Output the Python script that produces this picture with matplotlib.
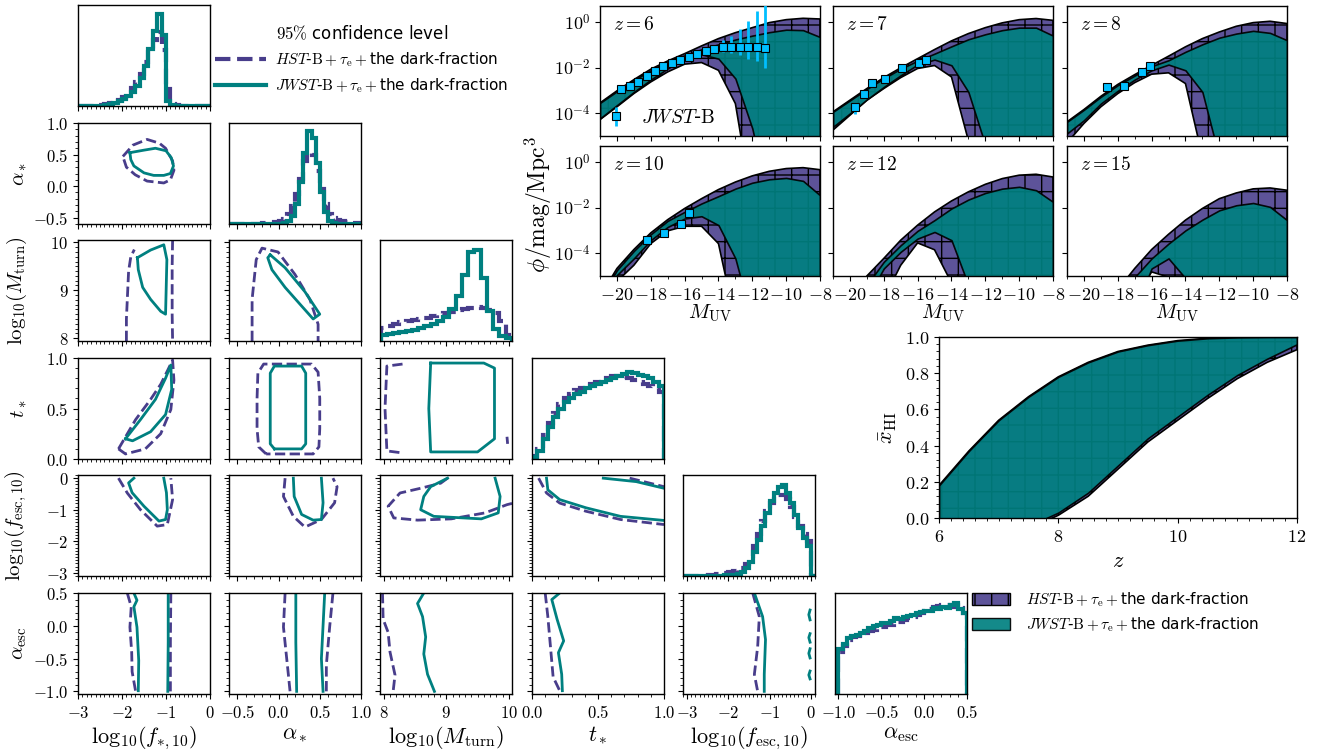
import numpy as np
import matplotlib.pyplot as plt
from matplotlib.lines import Line2D
from matplotlib.patches import Patch
from matplotlib.ticker import (MultipleLocator, FixedLocator, FixedFormatter,
                               FuncFormatter, NullLocator, AutoMinorLocator)

plt.rcParams['mathtext.fontset'] = 'cm'
plt.rcParams['axes.linewidth'] = 1.0
plt.rcParams['hatch.linewidth'] = 1.0

HST_LINE = '#483d8b'
HST_FILL = '#5d5399'
JWST_LINE = '#008080'
OBS = '#00bfff'

# ---------------- 1D posteriors (normalised step heights) ----------------
fstar_edges = np.linspace(-3, 0, 31)
fstar_hist_hst = [0.001, 0.001, 0.002, 0.003, 0.005, 0.008, 0.015, 0.025, 0.04, 0.06,
                  0.09, 0.13, 0.18, 0.24, 0.32, 0.44, 0.55, 0.65, 0.73, 0.55,
                  0.17, 0.02, 0.006, 0.004, 0.003, 0.002, 0.002, 0.002, 0.001, 0.001]
fstar_hist_jwst = [0, 0, 0, 0.001, 0.002, 0.003, 0.008, 0.015, 0.03, 0.05,
                   0.07, 0.1, 0.14, 0.2, 0.28, 0.4, 0.56, 0.74, 0.91, 0.7,
                   0.05, 0.005, 0.003, 0.002, 0.002, 0.002, 0.001, 0.001, 0.001, 0.001]

astar_edges = np.linspace(-0.6, 1.0, 33)
astar_hist_hst = [0.001, 0.001, 0.001, 0.002, 0.002, 0.003, 0.003, 0.004, 0.005, 0.007,
                  0.01, 0.015, 0.025, 0.05, 0.1, 0.18, 0.3, 0.45, 0.62, 0.7,
                  0.68, 0.52, 0.35, 0.2, 0.1, 0.06, 0.04, 0.03, 0.02, 0.015, 0.01, 0.01]
astar_hist_jwst = [0, 0, 0, 0, 0, 0, 0, 0, 0, 0, 0, 0,
                   0.002, 0.01, 0.03, 0.08, 0.2, 0.42, 0.7, 0.92, 0.85, 0.6,
                   0.32, 0.12, 0.03, 0.008, 0.003, 0.001, 0.001, 0.001, 0.001, 0.001]

mturn_edges = np.linspace(7.95, 10.05, 22)
mturn_hist_hst = [0.13, 0.15, 0.17, 0.19, 0.2, 0.21, 0.22, 0.23, 0.25, 0.27, 0.28,
                  0.29, 0.31, 0.32, 0.33, 0.34, 0.33, 0.31, 0.28, 0.2, 0.06]
mturn_hist_jwst = [0.06, 0.07, 0.08, 0.09, 0.1, 0.11, 0.13, 0.15, 0.17, 0.2, 0.24,
                   0.32, 0.45, 0.65, 0.88, 0.9, 0.62, 0.3, 0.12, 0.05, 0.03]

tstar_edges = np.linspace(0, 1, 26)
tstar_hist_hst = [0.03, 0.1, 0.24, 0.36, 0.46, 0.54, 0.6, 0.64, 0.68, 0.7, 0.72, 0.74, 0.76,
                  0.78, 0.8, 0.82, 0.82, 0.81, 0.8, 0.78, 0.76, 0.74, 0.72, 0.7, 0.66]
tstar_hist_jwst = [0.02, 0.08, 0.2, 0.32, 0.42, 0.5, 0.56, 0.6, 0.64, 0.66, 0.7, 0.72, 0.74,
                   0.76, 0.78, 0.8, 0.82, 0.84, 0.86, 0.85, 0.83, 0.82, 0.8, 0.76, 0.72]

fesc_edges = np.linspace(-3.1, 0.1, 33)
fesc_hist_hst = [0, 0, 0, 0, 0, 0, 0.005, 0.01, 0.02, 0.02, 0.03, 0.04,
                 0.05, 0.06, 0.08, 0.12, 0.2, 0.3, 0.42, 0.54, 0.64, 0.72,
                 0.78, 0.8, 0.8, 0.76, 0.68, 0.58, 0.5, 0.42, 0.35, 0]
fesc_hist_jwst = [0, 0, 0, 0, 0, 0, 0, 0, 0.002, 0.003, 0.005, 0.007,
                  0.01, 0.02, 0.04, 0.08, 0.14, 0.24, 0.36, 0.5, 0.62, 0.74,
                  0.82, 0.88, 0.9, 0.82, 0.72, 0.6, 0.48, 0.38, 0.3, 0]

aesc_edges = np.linspace(-1.0, 0.5, 31)
aesc_hist_hst = [0.42, 0.48, 0.53, 0.56, 0.57, 0.58, 0.6, 0.62, 0.63, 0.65, 0.66, 0.68, 0.68,
                 0.7, 0.71, 0.73, 0.75, 0.76, 0.78, 0.8, 0.82, 0.84, 0.86, 0.87, 0.88, 0.88,
                 0.86, 0.88, 0.85, 0.8]
aesc_hist_jwst = [0.45, 0.5, 0.55, 0.57, 0.58, 0.6, 0.62, 0.65, 0.67, 0.68, 0.7, 0.7, 0.72,
                  0.75, 0.74, 0.76, 0.77, 0.78, 0.8, 0.81, 0.82, 0.82, 0.85, 0.84, 0.86, 0.85,
                  0.88, 0.9, 0.84, 0.8]

# ---------------- 95% contours (x, y) per panel ----------------
c_astar_fstar_hst = [(-1.98, 0.47), (-1.75, 0.65), (-1.43, 0.74), (-1.15, 0.68), (-1.01, 0.6),
                     (-0.85, 0.4), (-0.82, 0.25), (-0.9, 0.1), (-1.05, 0.05), (-1.43, 0.08),
                     (-1.7, 0.18), (-1.9, 0.3), (-1.98, 0.47)]
c_astar_fstar_jwst = [(-1.82, 0.53), (-1.5, 0.57), (-1.24, 0.6), (-1.0, 0.56), (-0.88, 0.45),
                      (-0.83, 0.32), (-0.9, 0.2), (-1.05, 0.17), (-1.28, 0.17), (-1.5, 0.21),
                      (-1.73, 0.32), (-1.8, 0.42), (-1.82, 0.53)]

c_mturn_fstar_hst_a = [(-1.90, 7.94), (-1.90, 8.4), (-1.88, 8.8), (-1.85, 9.4), (-1.8, 9.7), (-1.72, 9.85)]
c_mturn_fstar_hst_b = [(-0.85, 10.05), (-0.86, 9.5), (-0.86, 8.5), (-0.85, 7.94)]
c_mturn_fstar_jwst = [(-1.65, 9.68), (-1.35, 9.84), (-1.05, 9.95), (-0.98, 9.64), (-1.01, 8.50),
                      (-1.12, 8.56), (-1.35, 8.81), (-1.53, 9.06), (-1.63, 9.43), (-1.65, 9.68)]

c_tstar_fstar_hst = [(-2.08, 0.10), (-1.69, 0.39), (-1.35, 0.59), (-1.12, 0.74), (-0.96, 0.88),
                     (-0.85, 0.98), (-0.82, 0.78), (-0.89, 0.49), (-1.12, 0.25), (-1.47, 0.10),
                     (-1.92, 0.05), (-2.08, 0.10)]
c_tstar_fstar_jwst = [(-1.92, 0.20), (-1.58, 0.39), (-1.24, 0.59), (-1.01, 0.80), (-0.89, 0.93),
                      (-0.87, 0.69), (-1.01, 0.44), (-1.35, 0.27), (-1.76, 0.18), (-1.92, 0.20)]

c_fesc_fstar_hst = [(-2.08, 0.0), (-1.88, -0.47), (-1.58, -1.0), (-1.20, -1.52), (-0.97, -1.47),
                    (-0.85, -0.68), (-0.89, 0.0)]
c_fesc_fstar_jwst = [(-1.73, 0.0), (-1.85, -0.15), (-1.77, -0.46), (-1.50, -0.89), (-1.16, -1.36),
                     (-1.01, -1.31), (-0.97, -1.0), (-0.99, -0.46), (-1.05, 0.0)]

c_aesc_fstar_hst_a = [(-1.88, 0.5), (-1.79, 0.29), (-1.82, -0.02), (-1.78, -0.4), (-1.77, -0.7), (-1.69, -1.0)]
c_aesc_fstar_hst_b = [(-0.89, 0.5), (-0.9, -0.25), (-0.9, -1.0)]
c_aesc_fstar_jwst_a = [(-1.73, 0.5), (-1.66, 0.39), (-1.73, 0.29), (-1.66, -0.02), (-1.62, -0.53), (-1.63, -0.99)]
c_aesc_fstar_jwst_b = [(-0.95, 0.5), (-0.95, -0.25), (-0.96, -1.0)]

c_mturn_astar_hst = [(-0.32, 7.94), (-0.32, 8.81), (-0.27, 9.64), (-0.2, 9.88), (-0.006, 9.80),
                     (0.2, 9.33), (0.38, 8.81), (0.48, 8.29), (0.48, 7.94)]
c_mturn_astar_jwst = [(-0.10, 9.74), (0.08, 9.47), (0.32, 8.97), (0.50, 8.50), (0.42, 8.40),
                      (0.26, 8.71), (0.08, 9.06), (-0.08, 9.43), (-0.13, 9.68), (-0.10, 9.74)]

c_tstar_astar_hst = [(-0.15, 0.05), (-0.24, 0.12), (-0.26, 0.3), (-0.26, 0.6), (-0.25, 0.85),
                     (-0.18, 0.94), (0.40, 0.94), (0.48, 0.86), (0.5, 0.6), (0.5, 0.3),
                     (0.49, 0.12), (0.42, 0.05), (-0.15, 0.05)]
c_tstar_astar_jwst = [(-0.05, 0.1), (-0.1, 0.15), (-0.1, 0.5), (-0.1, 0.85), (-0.05, 0.92),
                      (0.28, 0.92), (0.33, 0.85), (0.33, 0.5), (0.33, 0.15), (0.28, 0.1), (-0.05, 0.1)]

c_fesc_astar_hst = [(0.08, 0.0), (0.06, -0.58), (0.18, -1.21), (0.32, -1.55), (0.52, -1.31),
                    (0.68, -0.78), (0.71, -0.27), (0.66, 0.0)]
c_fesc_astar_jwst = [(0.18, 0.0), (0.19, -0.58), (0.28, -1.15), (0.42, -1.33), (0.52, -1.31),
                     (0.54, -0.78), (0.52, 0.0)]

c_aesc_astar_hst_a = [(0.08, 0.5), (0.06, -0.02), (0.12, -0.75), (0.14, -1.0)]
c_aesc_astar_hst_b = [(0.66, 0.5), (0.62, -0.02), (0.58, -0.6), (0.58, -1.0)]
c_aesc_astar_jwst_a = [(0.21, 0.5), (0.21, -0.25), (0.22, -1.0)]
c_aesc_astar_jwst_b = [(0.56, 0.5), (0.52, -0.5), (0.54, -1.0)]

c_tstar_mturn_hst_a = [(8.3, 0.94), (8.05, 0.92), (8.02, 0.5), (8.05, 0.08), (8.3, 0.06)]
c_tstar_mturn_hst_b = [(9.97, 0.22), (9.98, 0.15)]
c_tstar_mturn_jwst = [(8.75, 0.95), (8.72, 0.5), (8.75, 0.07), (9.5, 0.07), (9.77, 0.2),
                      (9.77, 0.9), (9.6, 0.95), (8.75, 0.95)]

c_fesc_mturn_hst = [(10.05, -0.80), (9.97, -0.84), (9.62, -1.10), (9.08, -1.29), (8.54, -1.33),
                    (8.16, -1.26), (8.07, -0.89), (8.26, -0.47), (8.59, -0.32), (8.91, -0.16), (9.02, 0.0)]
c_fesc_mturn_jwst = [(9.02, 0.0), (8.75, -0.27), (8.64, -0.58), (8.59, -1.0), (8.80, -1.21),
                     (9.56, -1.29), (9.83, -1.10), (9.86, -0.58), (9.78, 0.0)]

c_aesc_mturn_hst = [(7.98, 0.5), (7.99, 0.1), (8.07, -0.1), (8.10, -0.4), (8.18, -0.75), (8.15, -1.0)]
c_aesc_mturn_jwst = [(8.64, 0.5), (8.54, 0.34), (8.62, 0.14), (8.67, -0.17), (8.64, -0.43),
                     (8.70, -0.74), (8.81, -1.0)]

c_fesc_tstar_hst_a = [(0.05, 0.0), (0.11, -0.47), (0.21, -0.79), (0.41, -1.05), (0.67, -1.31), (1.0, -1.47)]
c_fesc_tstar_hst_b = [(0.74, 0.0), (1.0, -0.27)]
c_fesc_tstar_jwst_a = [(0.11, 0.0), (0.12, -0.37), (0.21, -0.68), (0.41, -0.94), (0.67, -1.21), (1.0, -1.34)]
c_fesc_tstar_jwst_b = [(0.54, 0.0), (0.79, -0.11), (1.0, -0.32)]

c_aesc_tstar_hst = [(0.10, 0.5), (0.12, 0.14), (0.14, -0.32), (0.16, -0.78), (0.21, -0.99)]
c_aesc_tstar_jwst = [(0.21, 0.5), (0.15, 0.4), (0.19, 0.1), (0.24, -0.23), (0.20, -0.41),
                     (0.225, -0.74), (0.23, -0.99)]

c_aesc_fesc_hst = [(-1.41, 0.5), (-1.25, 0.14), (-1.29, -0.32), (-1.37, -0.74), (-1.29, -1.0)]
c_aesc_fesc_jwst = [(-1.37, 0.5), (-1.17, 0.14), (-1.10, -0.21), (-1.13, -0.74), (-1.13, -1.0)]
c_aesc_fesc_jwst_b = [(-0.02, 0.24), (-0.05, 0.17), (-0.02, 0.09)]
c_aesc_fesc_jwst_c = [(-0.02, -0.12), (-0.05, -0.18), (-0.02, -0.25)]
c_aesc_fesc_jwst_d = [(-0.02, -0.35), (-0.05, -0.42), (-0.02, -0.49)]
c_aesc_fesc_jwst_e = [(-0.02, -0.69), (-0.05, -0.75), (-0.02, -0.81)]

# ---------------- UV luminosity functions: log10(phi) bands ----------------
mag_grid = [-21, -20, -19, -18, -17, -16, -15, -14, -13, -12, -11, -10, -9, -8]

z6_hst_hi = [-3.55, -3.02, -2.53, -2.07, -1.71, -1.39, -1.05, -0.73, -0.47, -0.25, -0.03, 0.10, 0.16, 0.13]
z6_jwst_hi = [-3.55, -3.04, -2.55, -2.12, -1.77, -1.46, -1.20, -0.98, -0.77, -0.60, -0.45, -0.34, -0.36, -0.66]
z6_hst_lo = [-4.28, -3.72, -3.14, -2.63, -2.19, -1.85, -1.78, -2.12, -3.58, -8, -8, -8, -8, -8]
z6_jwst_lo = [-4.23, -3.65, -3.07, -2.53, -2.04, -1.61, -1.42, -1.61, -2.48, -4.67, -8, -8, -8, -8]

z7_hst_hi = [-3.94, -3.43, -2.92, -2.44, -2.01, -1.61, -1.21, -0.83, -0.51, -0.25, -0.04, 0.10, 0.15, 0.07]
z7_jwst_hi = [-3.94, -3.44, -2.94, -2.47, -2.05, -1.70, -1.39, -1.07, -0.76, -0.54, -0.36, -0.25, -0.25, -0.60]
z7_hst_lo = [-4.74, -4.09, -3.43, -2.92, -2.44, -2.04, -1.91, -2.41, -5.2, -8, -8, -8, -8, -8]
z7_jwst_lo = [-4.60, -4.01, -3.40, -2.85, -2.34, -1.87, -1.65, -1.90, -3.07, -5.4, -8, -8, -8, -8]

z8_hst_hi = [-4.38, -3.84, -3.26, -2.74, -2.31, -1.90, -1.50, -1.09, -0.73, -0.44, -0.19, -0.03, 0.03, -0.07]
z8_jwst_hi = [-4.38, -3.85, -3.28, -2.77, -2.35, -1.94, -1.68, -1.31, -0.98, -0.69, -0.51, -0.39, -0.48, -0.80]
z8_hst_lo = [-5.3, -4.45, -3.72, -3.14, -2.66, -2.29, -2.23, -2.70, -5.9, -8, -8, -8, -8, -8]
z8_jwst_lo = [-4.89, -4.31, -3.58, -3.02, -2.53, -2.12, -1.87, -2.12, -3.07, -5.95, -8, -8, -8, -8]

z10_hst_hi = [-5.9, -4.67, -3.84, -3.11, -2.53, -2.04, -1.61, -1.21, -0.88, -0.61, -0.41, -0.29, -0.25, -0.34]
z10_jwst_hi = [-6.0, -4.74, -3.90, -3.17, -2.58, -2.19, -1.82, -1.50, -1.17, -0.91, -0.76, -0.70, -0.83, -1.46]
z10_hst_lo = [-6.0, -5.24, -4.53, -3.58, -3.02, -2.82, -2.82, -3.58, -7.0, -8, -8, -8, -8, -8]
z10_jwst_lo = [-6.0, -4.96, -4.23, -3.43, -2.85, -2.48, -2.38, -2.77, -4.23, -7.0, -8, -8, -8, -8]

z12_hst_hi = [-7.0, -6.0, -5.0, -4.23, -3.43, -2.77, -2.19, -1.71, -1.31, -0.98, -0.73, -0.58, -0.54, -0.66]
z12_jwst_hi = [-7.5, -6.5, -5.4, -4.38, -3.65, -3.02, -2.55, -2.04, -1.65, -1.36, -1.17, -1.09, -1.24, -1.75]
z12_hst_lo = [-8, -8, -8, -6.0, -4.53, -3.55, -3.85, -5.3, -8, -8, -8, -8, -8, -8]
z12_jwst_lo = [-8, -8, -6.0, -4.67, -3.94, -3.36, -3.07, -3.43, -5.4, -8, -8, -8, -8, -8]

z15_hst_hi = [-9, -8, -7, -5.6, -4.67, -3.84, -3.17, -2.55, -2.04, -1.61, -1.36, -1.18, -1.14, -1.24]
z15_jwst_hi = [-9, -8, -7.5, -6.5, -5.05, -4.23, -3.58, -3.0, -2.53, -2.12, -1.90, -1.80, -1.97, -2.55]
z15_hst_lo = [-9, -9, -9, -8, -6.0, -4.82, -5.05, -8, -9, -9, -9, -9, -9, -9]
z15_jwst_lo = [-9, -9, -9, -8, -6.5, -4.67, -4.23, -5.1, -8, -9, -9, -9, -9, -9]

# JWST-B observed LF points: log10(phi) with errors in dex
z6_obs_mag = [-19.75, -19.25, -18.75, -18.25, -17.75, -17.25, -16.75, -16.25, -15.75,
              -15.25, -14.75, -14.25, -13.75, -13.25, -12.75, -12.25, -11.75, -11.25]
z6_obs_logphi = [-2.96, -2.82, -2.64, -2.38, -2.16, -1.94, -1.80, -1.65, -1.53,
                 -1.42, -1.28, -1.20, -1.11, -1.11, -1.09, -1.09, -1.11, -1.15]
z6_obs_err_up = [0.10, 0.08, 0.07, 0.06, 0.05, 0.05, 0.05, 0.05, 0.06,
                 0.07, 0.10, 0.15, 0.31, 0.50, 0.76, 1.14, 1.60, 2.30]
z6_obs_err_dn = [0.12, 0.10, 0.08, 0.07, 0.06, 0.06, 0.06, 0.06, 0.07,
                 0.08, 0.10, 0.12, 0.20, 0.25, 0.35, 0.55, 0.62, 0.85]

z7_obs_mag = [-19.68, -19.19, -18.68, -17.93, -16.91, -15.94, -15.51]
z7_obs_logphi = [-3.72, -3.15, -2.66, -2.51, -2.04, -1.78, -1.65]
z7_obs_err_up = [0.15, 0.1, 0.08, 0.08, 0.06, 0.06, 0.06]
z7_obs_err_dn = [0.30, 0.15, 0.1, 0.1, 0.08, 0.08, 0.08]

z8_obs_mag = [-18.62, -17.61, -16.59, -16.11]
z8_obs_logphi = [-2.85, -2.80, -2.19, -1.91]
z8_obs_err_up = [0.1, 0.1, 0.08, 0.08]
z8_obs_err_dn = [0.15, 0.15, 0.1, 0.1]

z10_obs_mag = [-18.24, -17.23, -16.22, -15.72]
z10_obs_logphi = [-3.43, -3.11, -2.73, -2.26]
z10_obs_err_up = [0.1, 0.1, 0.08, 0.08]
z10_obs_err_dn = [0.15, 0.12, 0.1, 0.1]

# ---------------- neutral fraction history ----------------
xhi_z = [6, 6.5, 7, 7.5, 8, 8.5, 9, 9.5, 10, 10.5, 11, 11.5, 12]
xhi_hst_hi = [0.18, 0.37, 0.54, 0.67, 0.78, 0.86, 0.92, 0.955, 0.98, 0.993, 0.998, 1.0, 1.0]
xhi_hst_lo = [-0.5, -0.35, -0.2, -0.06, 0.015, 0.12, 0.27, 0.42, 0.54, 0.66, 0.77, 0.86, 0.93]
xhi_jwst_hi = [0.18, 0.37, 0.54, 0.67, 0.78, 0.86, 0.92, 0.955, 0.98, 0.993, 0.998, 1.0, 1.0]
xhi_jwst_lo = [-0.5, -0.35, -0.2, -0.045, 0.03, 0.14, 0.29, 0.44, 0.56, 0.68, 0.79, 0.88, 0.96]

# =====================================================================
W, H = 1336, 751
fig = plt.figure(figsize=(W / 100, H / 100), dpi=100)


def add_px(left, top, w, h):
    return fig.add_axes([left / W, 1 - (top + h) / H, w / W, h / H])


def math_fmt(fmt):
    return FuncFormatter(lambda v, p: '$' + fmt.format(0.0 if abs(v) < 1e-9 else v) + '$')


# ---------------- corner plot ----------------
corner_left = [78, 229, 380, 532, 683, 835]
corner_top = [5, 123, 240, 358, 475, 593]
params = [
    dict(lim=(-3, 0), major=1, fmt='{:.0f}', label=r'$\mathrm{log}_{10}(f_{*,10})$'),
    dict(lim=(-0.6, 1.0), major=0.5, fmt='{:.1f}', label=r'$\alpha_*$'),
    dict(lim=(7.94, 10.05), major=1, fmt='{:.0f}', label=r'$\mathrm{log}_{10}(M_{\rm turn})$'),
    dict(lim=(0, 1), major=0.5, fmt='{:.1f}', label=r'$t_*$'),
    dict(lim=(-3.1, 0.1), major=1, fmt='{:.0f}', label=r'$\mathrm{log}_{10}(f_{\rm esc,10})$'),
    dict(lim=(-1.04, 0.5), major=0.5, fmt='{:.1f}', label=r'$\alpha_{\rm esc}$'),
]
diag = [
    (fstar_edges, fstar_hist_hst, fstar_hist_jwst),
    (astar_edges, astar_hist_hst, astar_hist_jwst),
    (mturn_edges, mturn_hist_hst, mturn_hist_jwst),
    (tstar_edges, tstar_hist_hst, tstar_hist_jwst),
    (fesc_edges, fesc_hist_hst, fesc_hist_jwst),
    (aesc_edges, aesc_hist_hst, aesc_hist_jwst),
]
contours = {
    (1, 0): ([c_astar_fstar_hst], [c_astar_fstar_jwst]),
    (2, 0): ([c_mturn_fstar_hst_a, c_mturn_fstar_hst_b], [c_mturn_fstar_jwst]),
    (3, 0): ([c_tstar_fstar_hst], [c_tstar_fstar_jwst]),
    (4, 0): ([c_fesc_fstar_hst], [c_fesc_fstar_jwst]),
    (5, 0): ([c_aesc_fstar_hst_a, c_aesc_fstar_hst_b], [c_aesc_fstar_jwst_a, c_aesc_fstar_jwst_b]),
    (2, 1): ([c_mturn_astar_hst], [c_mturn_astar_jwst]),
    (3, 1): ([c_tstar_astar_hst], [c_tstar_astar_jwst]),
    (4, 1): ([c_fesc_astar_hst], [c_fesc_astar_jwst]),
    (5, 1): ([c_aesc_astar_hst_a, c_aesc_astar_hst_b], [c_aesc_astar_jwst_a, c_aesc_astar_jwst_b]),
    (3, 2): ([c_tstar_mturn_hst_a, c_tstar_mturn_hst_b], [c_tstar_mturn_jwst]),
    (4, 2): ([c_fesc_mturn_hst], [c_fesc_mturn_jwst]),
    (5, 2): ([c_aesc_mturn_hst], [c_aesc_mturn_jwst]),
    (4, 3): ([c_fesc_tstar_hst_a, c_fesc_tstar_hst_b], [c_fesc_tstar_jwst_a, c_fesc_tstar_jwst_b]),
    (5, 3): ([c_aesc_tstar_hst], [c_aesc_tstar_jwst]),
    (5, 4): ([c_aesc_fesc_hst], [c_aesc_fesc_jwst, c_aesc_fesc_jwst_b, c_aesc_fesc_jwst_c,
                                 c_aesc_fesc_jwst_d, c_aesc_fesc_jwst_e]),
}

for i in range(6):
    for j in range(i + 1):
        ax = add_px(corner_left[j], corner_top[i], 132, 101)
        px, py = params[j], params[i]
        ax.set_xlim(*px['lim'])
        ax.xaxis.set_major_locator(MultipleLocator(px['major']))
        ax.xaxis.set_minor_locator(MultipleLocator(0.1))
        ax.xaxis.set_major_formatter(math_fmt(px['fmt']))
        ax.tick_params(labelsize=12)
        if i == j:
            edges, h_hst, h_jwst = diag[i]
            ax.stairs(h_hst, edges, color=HST_LINE, lw=3, ls='--')
            ax.stairs(h_jwst, edges, color=JWST_LINE, lw=3)
            ax.set_ylim(0, 1)
            ax.yaxis.set_major_locator(NullLocator())
            ax.yaxis.set_minor_locator(NullLocator())
        else:
            ax.set_ylim(*py['lim'])
            ax.yaxis.set_major_locator(MultipleLocator(py['major']))
            ax.yaxis.set_minor_locator(MultipleLocator(0.1))
            ax.yaxis.set_major_formatter(math_fmt(py['fmt']))
            hst_parts, jwst_parts = contours[(i, j)]
            for part in hst_parts:
                xy = np.array(part)
                ax.plot(xy[:, 0], xy[:, 1], color=HST_LINE, lw=2, ls='--')
            for part in jwst_parts:
                xy = np.array(part)
                ax.plot(xy[:, 0], xy[:, 1], color=JWST_LINE, lw=2)
            if j == 0:
                ax.set_ylabel(py['label'], fontsize=15)
                ax.yaxis.set_label_coords(-0.37, 0.5)
            else:
                ax.tick_params(labelleft=False)
        if i == 5:
            ax.set_xlabel(px['label'], fontsize=16)
            ax.xaxis.set_label_coords(0.5, -0.30)
        else:
            ax.tick_params(labelbottom=False)

fig.legend(handles=[Line2D([], [], color=HST_LINE, lw=3, ls='--'),
                    Line2D([], [], color=JWST_LINE, lw=3)],
           labels=[r'$HST$-$\mathrm{B}+\tau_{\rm e}+$the dark-fraction',
                   r'$JWST$-$\mathrm{B}+\tau_{\rm e}+$the dark-fraction'],
           title=r'$95\%$ confidence level', title_fontsize=12, fontsize=11,
           loc='upper left', bbox_to_anchor=(209 / W, 1 - 19 / H), frameon=False,
           handlelength=3.3, handletextpad=0.65, labelspacing=0.45, borderaxespad=0)

# ---------------- luminosity functions ----------------
lf_panels = [
    (6, z6_hst_hi, z6_jwst_hi, z6_hst_lo, z6_jwst_lo),
    (7, z7_hst_hi, z7_jwst_hi, z7_hst_lo, z7_jwst_lo),
    (8, z8_hst_hi, z8_jwst_hi, z8_hst_lo, z8_jwst_lo),
    (10, z10_hst_hi, z10_jwst_hi, z10_hst_lo, z10_jwst_lo),
    (12, z12_hst_hi, z12_jwst_hi, z12_hst_lo, z12_jwst_lo),
    (15, z15_hst_hi, z15_jwst_hi, z15_hst_lo, z15_jwst_lo),
]
obs = {
    6: (z6_obs_mag, z6_obs_logphi, z6_obs_err_dn, z6_obs_err_up),
    7: (z7_obs_mag, z7_obs_logphi, z7_obs_err_dn, z7_obs_err_up),
    8: (z8_obs_mag, z8_obs_logphi, z8_obs_err_dn, z8_obs_err_up),
    10: (z10_obs_mag, z10_obs_logphi, z10_obs_err_dn, z10_obs_err_up),
}
lf_left = [600, 833, 1067]
lf_top = [6, 146]
for k, (z, hh, jh, hl, jl) in enumerate(lf_panels):
    r, c = divmod(k, 3)
    ax = add_px(lf_left[c], lf_top[r], 220, 130)
    ax.set_yscale('log')
    ax.fill_between(mag_grid, 10 ** np.array(hl), 10 ** np.array(hh), facecolor=HST_FILL,
                    edgecolor='k', hatch='+', lw=1.2, zorder=1)
    ax.fill_between(mag_grid, 10 ** np.array(jl), 10 ** np.array(jh), facecolor=JWST_LINE,
                    edgecolor='k', alpha=0.92, lw=1.2, zorder=2)
    if z in obs:
        m, lp, ed, eu = (np.array(a) for a in obs[z])
        phi = 10 ** lp
        cont = ax.errorbar(m, phi, yerr=[phi - 10 ** (lp - ed), 10 ** (lp + eu) - phi], fmt='s',
                           color=OBS, mec='k', mew=0.8, ms=6, elinewidth=2, capsize=0, zorder=5)
        if z == 6:
            ax.legend([cont], [r'$JWST$-$\mathrm{B}$'], loc='center left', bbox_to_anchor=(0.0, 0.14),
                      frameon=False, fontsize=14, handlelength=0.8, handletextpad=0.9,
                      borderaxespad=0)
    ax.text(0.06, 0.86, r'$z=%d$' % z, transform=ax.transAxes, fontsize=14, va='center')
    ax.set_xlim(-21, -8)
    ax.set_ylim(1e-5, 5)
    ax.xaxis.set_major_locator(MultipleLocator(2))
    ax.xaxis.set_minor_locator(MultipleLocator(1))
    ax.xaxis.set_major_formatter(math_fmt('{:.0f}'))
    ax.yaxis.set_major_locator(FixedLocator([1e-4, 1e-2, 1]))
    ax.yaxis.set_major_formatter(FixedFormatter([r'$10^{-4}$', r'$10^{-2}$', r'$10^{0}$']))
    ax.yaxis.set_minor_locator(NullLocator())
    ax.tick_params(labelsize=13)
    if c > 0:
        ax.tick_params(labelleft=False)
    if r == 0:
        ax.tick_params(labelbottom=False)
    else:
        ax.set_xlabel(r'$M_{\rm UV}$', fontsize=15, labelpad=-1)
    if r == 1 and c == 0:
        ax.set_ylabel(r'$\phi/\mathrm{mag}/\mathrm{Mpc}^3$', fontsize=17)
        ax.yaxis.set_label_coords(-0.21, 0.55)

# ---------------- neutral fraction ----------------
ax = add_px(939, 337, 358, 181)
ax.fill_between(xhi_z, xhi_hst_lo, xhi_hst_hi, facecolor=HST_FILL, edgecolor='k',
                hatch='+', lw=1.2, zorder=1)
ax.fill_between(xhi_z, xhi_jwst_lo, xhi_jwst_hi, facecolor=JWST_LINE, edgecolor='k',
                alpha=0.92, lw=1.2, zorder=2)
ax.set_xlim(6, 12)
ax.set_ylim(0, 1)
ax.xaxis.set_major_locator(MultipleLocator(2))
ax.xaxis.set_minor_locator(AutoMinorLocator(10))
ax.yaxis.set_major_locator(MultipleLocator(0.2))
ax.yaxis.set_minor_locator(AutoMinorLocator(5))
ax.xaxis.set_major_formatter(math_fmt('{:.0f}'))
ax.yaxis.set_major_formatter(math_fmt('{:.1f}'))
ax.tick_params(labelsize=13)
ax.set_xlabel(r'$z$', fontsize=16)
ax.set_ylabel(r'$\bar{x}_{\rm HI}$', fontsize=16)

fig.legend(handles=[Patch(facecolor=HST_FILL, edgecolor='k', hatch='+'),
                    Patch(facecolor=JWST_LINE, edgecolor='k', alpha=0.92)],
           labels=[r'$HST$-$\mathrm{B}+\tau_{\rm e}+$the dark-fraction',
                   r'$JWST$-$\mathrm{B}+\tau_{\rm e}+$the dark-fraction'],
           fontsize=11, loc='upper left', bbox_to_anchor=(966 / W, 1 - 584 / H), frameon=False,
           handlelength=2.5, handleheight=0.8, handletextpad=1.0, labelspacing=0.45,
           borderaxespad=0)

fig.savefig('out.png', dpi=100)
